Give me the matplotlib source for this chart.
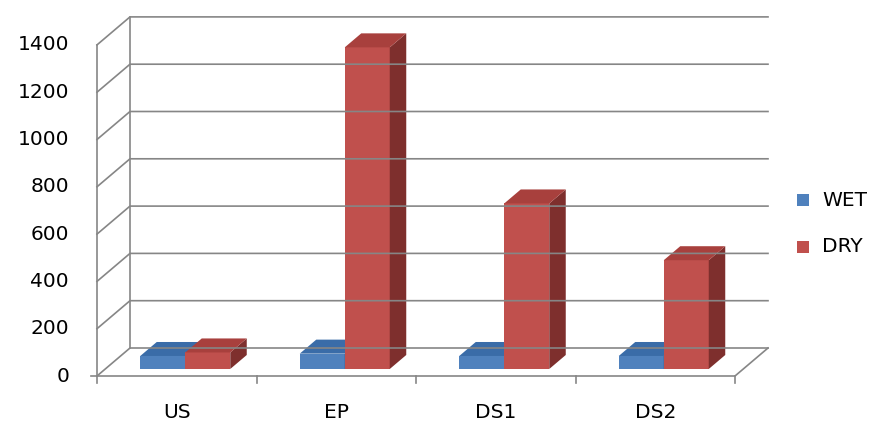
import matplotlib.pyplot as plt
from matplotlib.patches import Polygon

categories = ["US", "EP", "DS1", "DS2"]
wet = [55, 65, 55, 55]
dry = [70, 1360, 700, 460]
yticks = [0, 200, 400, 600, 800, 1000, 1200, 1400]

# projection (pixel space)
X0, X1, Y0 = 97, 735, 376
DX, DY = 33, -28
PX_PER = 47.3 / 200.0
GW = (X1 - X0) / len(categories)

def vy(v):
    return Y0 - v * PX_PER

fig = plt.figure(figsize=(8.72, 4.29), dpi=100)
ax = fig.add_axes([0, 0, 1, 1])
ax.set_xlim(0, 872)
ax.set_ylim(429, 0)
ax.axis("off")
grid = "#868686"
lw = 1.2
fs = 14.5

for t in yticks:
    y = vy(t)
    ax.plot([X0, X0 + DX, X1 + DX], [y, y + DY, y + DY], color=grid, lw=lw)
    ax.text(X0 - 28, y, str(t), ha="right", va="center", fontsize=fs)
ax.plot([X0 - 6, X0], [Y0, Y0], color=grid, lw=lw)
ax.plot([X0, X0], [Y0, vy(yticks[-1])], color=grid, lw=lw)
ax.plot([X0 + DX, X0 + DX], [Y0 + DY, vy(yticks[-1]) + DY], color=grid, lw=lw)
ax.plot([X0, X1, X1 + DX], [Y0, Y0, Y0 + DY], color=grid, lw=lw)
for i in range(len(categories) + 1):
    x = X0 + i * GW
    ax.plot([x, x], [Y0, Y0 + 7], color=grid, lw=lw)

def bar3d(x, v, front, top, side):
    fx, fy = 0.25 * DX, 0.25 * DY
    bx, by = 0.75 * DX, 0.75 * DY
    w = 45
    b = Y0 + fy
    t = vy(v) + fy
    x = x + fx
    ax.add_patch(Polygon([(x, b), (x + w, b), (x + w, t), (x, t)], fc=front, ec="none"))
    ax.add_patch(Polygon([(x + w, b), (x + w + bx - fx, b + by - fy), (x + w + bx - fx, t + by - fy), (x + w, t)], fc=side, ec="none"))
    ax.add_patch(Polygon([(x, t), (x + w, t), (x + w + bx - fx, t + by - fy), (x + bx - fx, t + by - fy)], fc=top, ec="none"))

for i, c in enumerate(categories):
    gx = X0 + i * GW
    bar3d(gx + 35, wet[i], "#4F81BD", "#3A6CA8", "#2C5689")
    bar3d(gx + 80, dry[i], "#C0504D", "#A8403D", "#7E2F2D")
    ax.text(gx + GW / 2, 412, c, ha="center", va="center", fontsize=fs)

ax.add_patch(Polygon([(797, 194), (809, 194), (809, 206), (797, 206)], fc="#4F81BD"))
ax.text(822, 200, "WET", va="center", fontsize=fs)
ax.add_patch(Polygon([(797, 241), (809, 241), (809, 253), (797, 253)], fc="#C0504D"))
ax.text(822, 247, "DRY", va="center", fontsize=fs)

fig.savefig("out.png", dpi=100)
